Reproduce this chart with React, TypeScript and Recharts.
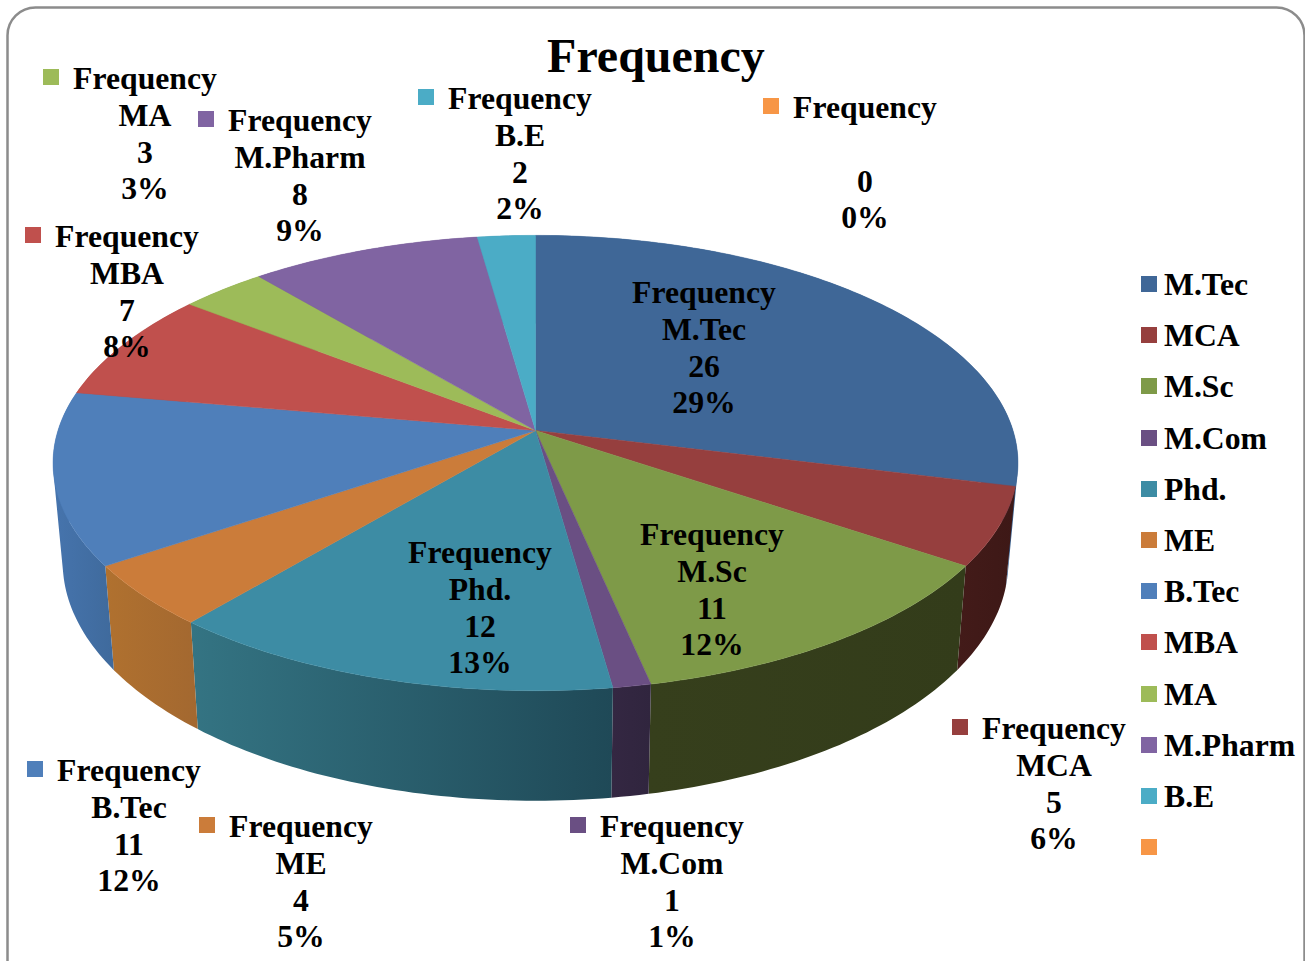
import { PieChart, Pie, Legend } from "recharts";

const categories = ["M.Tec", "MCA", "M.Sc", "M.Com", "Phd.", "ME", "B.Tec", "MBA", "MA", "M.Pharm", "B.E", ""];
const frequencies = [26, 5, 11, 1, 12, 4, 11, 7, 3, 8, 2, 0];
const percentLabels = ["29%", "6%", "12%", "1%", "13%", "5%", "12%", "8%", "3%", "9%", "2%", "0%"];
const topColors = ["#3f6797", "#963f3e", "#7e9a48", "#6a4f83", "#3d8ca4", "#cb7c3a", "#4f7fba", "#c0504d", "#9dbb59", "#8064a2", "#4bacc6", "#f79646"];
const wallColorsLeft = ["#38608f", "#431b19", "#363f1c", "#342742", "#347483", "#b0712f", "#4674ad", "#9c3f3c", "#7f9a48", "#6a5387", "#3d8ea5", "#c97a38"];
const wallColorsRight = ["#38608f", "#3d1816", "#333c1a", "#30253e", "#1f4957", "#a36830", "#3f6a9c", "#9c3f3c", "#7f9a48", "#6a5387", "#3d8ea5", "#c97a38"];

// centre of each data label's first line
const labelX = [704, 1054, 712, 672, 480, 301, 129, 127, 145, 300, 520, 865];
const labelY = [294, 730, 536, 828, 554, 828, 772, 238, 80, 122, 100, 109];

const tableData = categories.map((name, i) => ({
  name,
  value: frequencies[i],
  fill: topColors[i],
}));

const WIDTH = 1305;
const HEIGHT = 961;
const FONT = '"Liberation Serif", serif';
const LABEL_SIZE = 31.7;
const LINE_HEIGHT = 36.8;
const LEGEND_ROW = 51.2;

// tilted disc with a little perspective: the far side is foreshortened
const TILT = 0.467;
const PERSPECTIVE = 1 / 7;
const WALL_SHRINK_X = 0.98;
const WALL_STRETCH_Y = 1.048;
const WALL_DROP = 97.6;

type Pt = { x: number; y: number };

function rimPoint(cx: number, cy: number, r: number, angle: number): Pt {
  const rad = (angle * Math.PI) / 180;
  const w = 1 + PERSPECTIVE * Math.sin(rad);
  return {
    x: cx + (r * Math.cos(rad)) / w,
    y: cy - (r * TILT * Math.sin(rad)) / w,
  };
}

function rimPoints(cx: number, cy: number, r: number, start: number, end: number) {
  const pts: Pt[] = [];
  const steps = Math.max(1, Math.ceil(Math.abs(end - start)));
  for (let i = 0; i <= steps; i++) {
    pts.push(rimPoint(cx, cy, r, start + ((end - start) * i) / steps));
  }
  return pts;
}

function TopFace(props: any) {
  const { cx, cy, outerRadius, startAngle, endAngle, fill } = props;
  if (startAngle === endAngle) return null;
  const pts = rimPoints(cx, cy, outerRadius, startAngle, endAngle);
  const d = `M${cx},${cy} ` + pts.map((p) => `L${p.x},${p.y}`).join(" ") + " Z";
  return <path d={d} fill={fill} stroke={fill} strokeWidth={0.5} />;
}

// one small quad per degree, all wound the same way so the fold at the
// left and right silhouette fills instead of leaving a notch
function quadPath(a: Pt, b: Pt, c: Pt, d: Pt) {
  const corners = [a, b, c, d];
  let area = 0;
  corners.forEach((p, i) => {
    const q = corners[(i + 1) % 4];
    area += p.x * q.y - q.x * p.y;
  });
  const ordered = area < 0 ? [...corners].reverse() : corners;
  return "M" + ordered.map((p) => `${p.x},${p.y}`).join(" L") + " Z";
}

function SideWall(props: any) {
  const { cx, cy, outerRadius, startAngle, endAngle, index } = props;
  if (startAngle === endAngle) return null;
  const upper = rimPoints(cx, cy, outerRadius, startAngle, endAngle);
  const lower = upper.map((p) => ({
    x: cx + (p.x - cx) * WALL_SHRINK_X,
    y: cy + (p.y - cy) * WALL_STRETCH_Y + WALL_DROP,
  }));
  const quads = [];
  for (let i = 0; i < upper.length - 1; i++) {
    quads.push(quadPath(upper[i], upper[i + 1], lower[i + 1], lower[i]));
  }
  const id = `wall-${index}`;
  return (
    <g>
      <defs>
        <linearGradient id={id} x1="0" y1="0" x2="1" y2="0">
          <stop offset="0" stopColor={wallColorsLeft[index]} />
          <stop offset="1" stopColor={wallColorsRight[index]} />
        </linearGradient>
      </defs>
      <path d={quads.join(" ")} fill={`url(#${id})`} fillRule="nonzero" />
    </g>
  );
}

function DataLabel(props: any) {
  const { index } = props;
  const x = labelX[index];
  const y = labelY[index];
  const lines = ["Frequency", categories[index], String(frequencies[index]), percentLabels[index]];
  return (
    <g>
      <rect x={x - 102} y={y - 11} width={16} height={16} fill={topColors[index]} />
      {lines.map((line, i) => (
        <text
          key={i}
          x={x}
          y={y + 9 + i * LINE_HEIGHT}
          textAnchor="middle"
          fontFamily={FONT}
          fontWeight="bold"
          fontSize={LABEL_SIZE}
          fill="#000"
        >
          {line}
        </text>
      ))}
    </g>
  );
}

function LegendList({ payload }: any) {
  // both pies report their sectors, keep each category once
  const seen = new Set<string>();
  const items = (payload || []).filter((item: any) => {
    const key = String(item.value ?? "");
    if (seen.has(key)) return false;
    seen.add(key);
    return true;
  });
  return (
    <div style={{ fontFamily: FONT, fontWeight: "bold", fontSize: LABEL_SIZE, color: "#000" }}>
      {items.map((item: any, i: number) => (
        <div key={i} style={{ height: LEGEND_ROW, lineHeight: `${LEGEND_ROW}px`, whiteSpace: "nowrap", position: "relative", paddingLeft: 23 }}>
          <span
            style={{ position: "absolute", left: 0, top: 17, width: 16, height: 16, background: item.color }}
          />
          {item.value}
        </div>
      ))}
    </div>
  );
}

export default function App() {
  return (
    <div style={{ position: "absolute", left: 0, top: 0, width: WIDTH, height: HEIGHT, overflow: "hidden", background: "#fff" }}>
      <PieChart width={WIDTH} height={HEIGHT} margin={{ top: 0, right: 0, bottom: 0, left: 0 }} style={{ position: "absolute", left: 0, top: 0 }}>
        <rect x={7.5} y={7.5} width={1297} height={1000} rx={28} ry={28} fill="none" stroke="#8c8c8c" strokeWidth={2.5} />
        <text x={656} y={72} textAnchor="middle" fontFamily={FONT} fontWeight="bold" fontSize={48} fill="#000">
          Frequency
        </text>
        <Pie
          data={tableData}
          dataKey="value"
          nameKey="name"
          cx={535.5}
          cy={430.5}
          outerRadius={477.5}
          startAngle={90}
          endAngle={-270}
          stroke="none"
          legendType="none"
          shape={SideWall}
          isAnimationActive={false}
        />
        <Pie
          data={tableData}
          dataKey="value"
          nameKey="name"
          cx={535.5}
          cy={430.5}
          outerRadius={477.5}
          startAngle={90}
          endAngle={-270}
          stroke="none"
          shape={TopFace}
          label={DataLabel}
          labelLine={false}
          isAnimationActive={false}
        />
        <Legend
          layout="vertical"
          align="right"
          verticalAlign="top"
          itemSorter={null}
          content={LegendList}
          wrapperStyle={{ left: 1141, top: 259, width: 164 }}
        />
      </PieChart>
    </div>
  );
}
